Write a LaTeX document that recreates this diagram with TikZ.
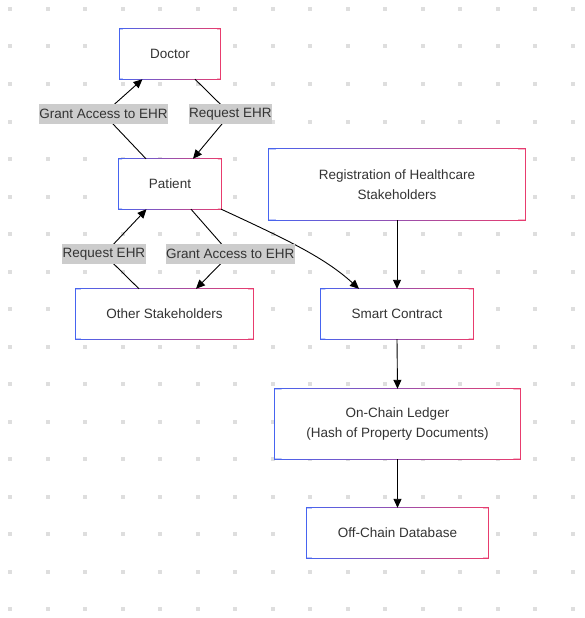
\documentclass[tikz,border=0pt]{standalone}
\usepackage{fontspec}
\setmainfont{Liberation Sans}
\usetikzlibrary{arrows.meta,calc}
\definecolor{bL}{RGB}{70,100,240}
\definecolor{bR}{RGB}{232,60,110}
\definecolor{txt}{RGB}{51,51,51}
\definecolor{lblbg}{RGB}{204,204,204}
\definecolor{dotc}{RGB}{222,222,222}
\begin{document}
\begin{tikzpicture}[x=1pt,y=-1pt,
 box/.style={rectangle, fill=white, inner sep=0pt, text=txt, align=center,
   font=\fontsize{13.5}{20}\selectfont},
 lbl/.style={fill=lblbg, inner xsep=0.5pt, inner ysep=0pt, minimum height=20pt, text=txt,
   font=\fontsize{13.5}{16}\selectfont},
 conn/.style={draw=black, line width=0.9pt, -{Triangle[length=9pt,width=8pt]}},
 dot/.style={fill=dotc},
 edge/.style={line width=1.3pt}
]
\useasboundingbox (0,0) rectangle (584,618);
\fill[white] (0,0) rectangle (584,618);
% dot grid
\foreach \i in {0,...,15}{
  \foreach \j in {0,...,16}{
    \fill[dot] ({10+37.5*\i-2},{9+37.5*\j-2}) rectangle ++(4,4);
  }
}
% nodes
\node[box, minimum width=100pt, minimum height=50pt] (doc) at (170,54) {Doctor};
\node[box, minimum width=102pt, minimum height=50pt] (pat) at (170,184) {Patient};
\node[box, minimum width=177pt, minimum height=50pt] (oth) at (164.5,314) {Other Stakeholders};
\node[box, minimum width=256pt, minimum height=71pt] (reg) at (397,184.5) {Registration of Healthcare\\Stakeholders};
\node[box, minimum width=152pt, minimum height=50pt] (sc) at (397,314) {Smart Contract};
\node[box, minimum width=245pt, minimum height=70pt] (onc) at (397.5,424) {On-Chain Ledger\\(Hash of Property Documents)};
\node[box, minimum width=181pt, minimum height=50pt] (off) at (397.5,533) {Off-Chain Database};
% gradient borders
\foreach \n in {doc,pat,oth,reg,sc,onc,off}{
  \draw[edge, bL] (\n.north west) -- (\n.south west);
  \draw[edge, bR] (\n.north east) -- (\n.south east);
  \foreach \k [evaluate=\k as \p using (\k+0.5)*2.5, evaluate=\k as \a using \k/40, evaluate=\k as \b using (\k+1)/40] in {0,...,39}{
    \draw[edge, line cap=rect, color=bR!\p!bL]
      ($(\n.north west)!\a!(\n.north east)$) -- ($(\n.north west)!\b!(\n.north east)$);
    \draw[edge, line cap=rect, color=bR!\p!bL]
      ($(\n.south west)!\a!(\n.south east)$) -- ($(\n.south west)!\b!(\n.south east)$);
  }
}
% label centres
\coordinate (l1c) at (103.5,114);
\coordinate (l2c) at (230.3,114);
\coordinate (l3c) at (104,254.3);
\coordinate (l4c) at (230.3,254);
% connectors
\draw[conn] ([xshift=-24pt]pat.north) -- (l1c) -- ([xshift=-27.5pt]doc.south);
\draw[conn] ([xshift=25pt]doc.south) -- (l2c) -- ([xshift=23pt]pat.north);
\draw[conn] ([xshift=-25.5pt]oth.north) -- (l3c) -- ([xshift=-23.5pt]pat.south);
\draw[conn] ([xshift=21pt]pat.south) -- (l4c) -- ([xshift=31.5pt]oth.north);
\draw[conn] (pat.south east) .. controls (290,241) and (325,258) .. ([xshift=-38pt]sc.north);
\draw[conn] (reg.south) -- (sc.north);
\draw[conn] (sc.south) -- (onc.north);
\draw[conn] (onc.south) -- (off.north);
% labels
\node[lbl] (l1) at (l1c) {Grant Access to EHR};
\node[lbl] (l2) at (l2c) {Request EHR};
\node[lbl] (l3) at (l3c) {Request EHR};
\node[lbl] (l4) at (l4c) {Grant Access to EHR};
\end{tikzpicture}
\end{document}
